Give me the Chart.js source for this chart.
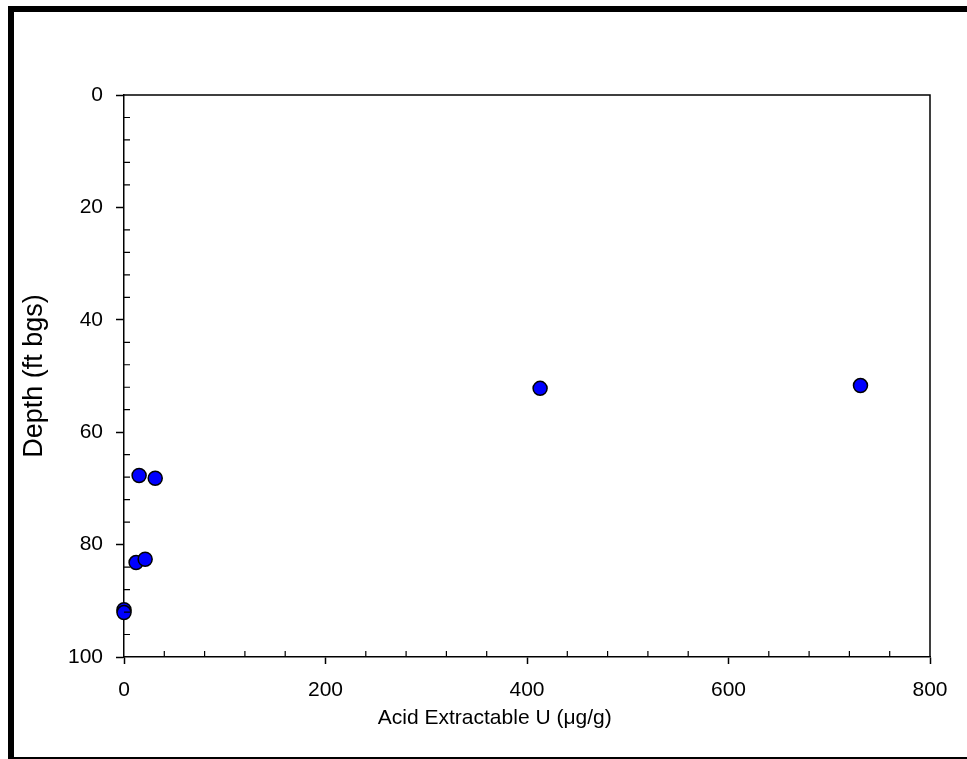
<!DOCTYPE html>
<html>
<head>
<meta charset="utf-8">
<script src="https://cdn.jsdelivr.net/npm/chart.js@4.4.1/dist/chart.umd.min.js"></script>
<style>
	html, body { margin: 0; padding: 0; background: #fff; }
	#wrap { position: relative; width: 967px; height: 759px; overflow: hidden; }
	#frame {
		position: absolute;
		left: 8px;
		top: 6px;
		width: 980px;
		height: 745px;
		border-left: 6px solid #000;
		border-top: 6px solid #000;
		border-bottom: 2px solid #000;
		pointer-events: none;
	}
</style>
</head>
<body>
<div id="wrap">
	<canvas id="chart" width="967" height="759"></canvas>
	<div id="frame"></div>
</div>
<script>
// acid extractable uranium (ug/g) against sample depth (ft bgs)
const uranium = [731, 413, 15, 31, 12, 21, 0, 0]
const depth = [51.7, 52.2, 67.7, 68.2, 83.2, 82.6, 91.6, 92.1]
const xTicks = [0, 200, 400, 600, 800]
const yTicks = [0, 20, 40, 60, 80, 100]
const xTitle = 'Acid Extractable U (μg/g)'
const yTitle = 'Depth (ft bgs)'

const FONT = 'Liberation Sans, Arial, Helvetica, sans-serif'

// small inward ticks between the labelled ones, the top/right frame
// and the x title, which sits a little left of the plot centre
const extras = {
	id: 'extras',
	afterDraw(chart) {
		const { ctx, chartArea: a, scales } = chart
		ctx.save()
		ctx.strokeStyle = '#000'
		ctx.lineWidth = 1.5
		ctx.beginPath()
		ctx.moveTo(a.left, a.top)
		ctx.lineTo(a.right, a.top)
		ctx.lineTo(a.right, a.bottom)
		ctx.stroke()

		ctx.lineWidth = 1.2
		ctx.beginPath()
		for (let v = 40; v < 800; v += 40) {
			if (v % 200 === 0) continue
			const px = scales.x.getPixelForValue(v)
			ctx.moveTo(px, a.bottom)
			ctx.lineTo(px, a.bottom - 6)
		}
		for (let v = 4; v < 100; v += 4) {
			if (v % 20 === 0) continue
			const py = scales.y.getPixelForValue(v)
			ctx.moveTo(a.left, py)
			ctx.lineTo(a.left + 6, py)
		}
		ctx.stroke()

		ctx.fillStyle = '#000'
		ctx.font = '21px ' + FONT
		ctx.textAlign = 'center'
		ctx.textBaseline = 'middle'
		ctx.fillText(xTitle, a.left + (a.right - a.left) * 0.46, a.bottom + 61)
		ctx.restore()
	},
}

const points = uranium.map((u, i) => ({ x: u, y: depth[i] }))

new Chart(document.getElementById('chart'), {
	type: 'scatter',
	data: {
		datasets: [
			{
				data: points,
				backgroundColor: '#0000ff',
				borderColor: '#000',
				borderWidth: 1.5,
				pointRadius: 7,
				pointHoverRadius: 7,
				clip: false,
			},
		],
	},
	options: {
		responsive: false,
		animation: false,
		layout: {
			padding: { top: 95, right: 37, bottom: 0, left: 0 },
		},
		plugins: {
			legend: { display: false },
			tooltip: { enabled: false },
		},
		scales: {
			x: {
				type: 'linear',
				position: 'bottom',
				min: 0,
				max: 800,
				afterFit: scale => {
					scale.height = 102
				},
				afterBuildTicks: scale => {
					scale.ticks = xTicks.map(v => ({ value: v }))
				},
				border: { color: '#000', width: 1.5 },
				grid: {
					drawOnChartArea: false,
					drawTicks: true,
					tickLength: 7,
					tickColor: '#000',
					tickWidth: 1.5,
				},
				ticks: {
					color: '#000',
					padding: 14,
					maxRotation: 0,
					font: { family: FONT, size: 21 },
				},
				title: { display: false },
			},
			y: {
				type: 'linear',
				position: 'left',
				reverse: true,
				min: 0,
				max: 100,
				afterFit: scale => {
					scale.width = 124
				},
				afterBuildTicks: scale => {
					scale.ticks = yTicks.map(v => ({ value: v }))
				},
				border: { color: '#000', width: 1.5 },
				grid: {
					drawOnChartArea: false,
					drawTicks: true,
					tickLength: 8,
					tickColor: '#000',
					tickWidth: 1.5,
				},
				ticks: {
					color: '#000',
					padding: 13,
					font: { family: FONT, size: 21 },
				},
				title: {
					display: true,
					text: yTitle,
					color: '#000',
					padding: { top: 18, bottom: 0 },
					font: { family: FONT, size: 27 },
				},
			},
		},
	},
	plugins: [extras],
})
</script>
</body>
</html>
